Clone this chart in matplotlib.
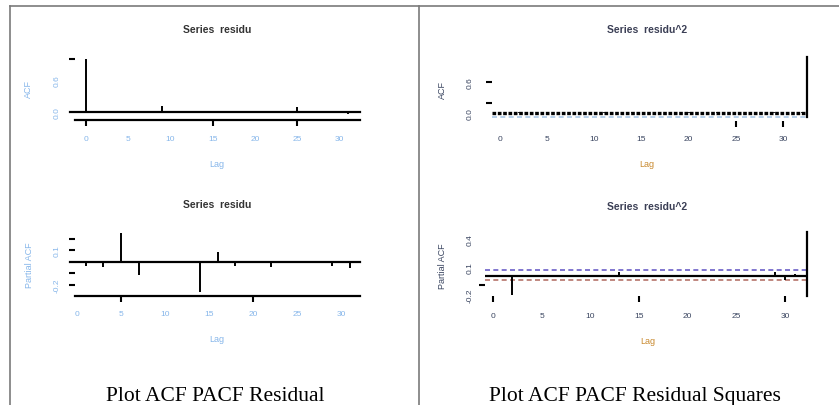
import numpy as np
import matplotlib.pyplot as plt
from matplotlib.lines import Line2D

W, H = 839, 406

# --- data ---
acf_res_lags = np.arange(0, 32)
acf_res = [1.00, 0.01, -0.01, 0.00, 0.01, -0.01, 0.00, 0.01, -0.01, 0.11,
           0.00, -0.01, 0.01, 0.00, -0.01, 0.01, 0.00, -0.01, 0.01, 0.00,
           -0.01, 0.00, 0.01, -0.01, 0.00, 0.09, 0.00, -0.01, 0.01, 0.00,
           -0.01, -0.03]

pacf_res_lags = np.arange(1, 32)
pacf_res = [-0.035, 0.01, -0.045, 0.005, 0.25, 0.01, -0.11, 0.005, -0.01, 0.01,
            0.00, -0.01, 0.01, -0.26, 0.005, 0.09, 0.00, -0.035, 0.01, 0.00,
            -0.01, -0.045, 0.00, 0.01, -0.01, 0.005, 0.00, 0.01, -0.035, 0.00,
            -0.05]

acf_sq_lags = np.arange(0, 33)
acf_sq = [0.02, 0.01, 0.02, 0.01, 0.01, 0.02, 0.01, 0.01, 0.02, 0.01, 0.01,
          0.02, 0.01, 0.01, 0.02, 0.01, 0.01, 0.02, 0.01, 0.01, 0.02, 0.01,
          0.01, 0.02, 0.01, 0.01, 0.02, 0.01, 0.01, 0.02, 0.01, 0.01, 0.02]

pacf_sq_lags = np.arange(1, 33)
pacf_sq = [0.01, -0.21, 0.00, 0.01, 0.00, -0.01, 0.00, 0.01, 0.00, -0.01,
           0.00, 0.01, 0.04, 0.00, -0.01, 0.00, 0.01, 0.00, -0.01, 0.00,
           0.01, 0.00, -0.01, 0.00, 0.01, 0.00, -0.01, 0.00, 0.04, -0.045,
           0.025, 0.00]
ci_sq = (0.065, -0.045)

lag_ticks = [0, 5, 10, 15, 20, 25, 30]
captions = ["Plot ACF PACF Residual", "Plot ACF PACF Residual Squares"]

plt.rcParams["font.family"] = ["Liberation Sans", "DejaVu Sans"]
fig = plt.figure(figsize=(W / 100, H / 100), dpi=100)

PX = 0.72  # pixels -> points


def add_panel(x0, x1, ytop, ybot, xlim, ylim):
    ax = fig.add_axes([x0 / W, 1 - ybot / H, (x1 - x0) / W, (ybot - ytop) / H])
    ax.set_xlim(*xlim)
    ax.set_ylim(*ylim)
    ax.patch.set_alpha(0)
    for s in ax.spines.values():
        s.set_visible(False)
    return ax


def style_ticks(ax, ylabels, ymarks, xmarks, xpad, ypad, color, bottom_spine):
    # labels on major ticks (no marks), visible marks drawn as minor ticks
    ax.xaxis.remove_overlapping_locs = False
    ax.yaxis.remove_overlapping_locs = False
    ax.set_xticks(lag_ticks)
    ax.set_xticklabels([str(t) for t in lag_ticks])
    ax.set_xticks(xmarks, minor=True)
    ax.set_yticks(list(ylabels.keys()))
    ax.set_yticklabels(list(ylabels.values()), rotation=90, va="center")
    ax.set_yticks(ymarks, minor=True)
    ax.tick_params(which="major", length=0, labelsize=6, labelcolor=color)
    ax.tick_params(axis="x", which="major", pad=xpad * PX)
    ax.tick_params(axis="y", which="major", pad=ypad * PX)
    ax.tick_params(which="minor", length=6 * PX, width=1.5, color="black",
                   direction="out")
    if bottom_spine:
        ax.spines["bottom"].set_visible(True)
        ax.spines["bottom"].set_linewidth(1.6)


def fig_text(x, y, s, **kw):
    fig.text(x / W, 1 - y / H, s, ha="center", va="center", **kw)


light = "#86b6ea"
dark = "#3a4560"

# top left: ACF of residuals
ax = add_panel(75, 360, 57, 121, (-1.3, 32.4), (-0.15, 1.05))
ax.axhline(0, xmin=-5 / 285, xmax=1, color="black", lw=1.6, clip_on=False)
ax.vlines(acf_res_lags, 0, acf_res, color="black", lw=1.4)
style_ticks(ax, {0.0: "0.0", 0.6: "0.6"}, [1.0], [0, 15, 25], 15, 14, light, True)
fig_text(217, 30, "Series  residu", fontsize=7.5, fontweight="bold", color="#333333")
fig_text(217, 165, "Lag", fontsize=6.5, color=light)
fig_text(28, 89, "ACF", fontsize=6.5, color=light, rotation=90)

# bottom left: PACF of residuals
ax = add_panel(75, 360, 228.5, 297, (-0.23, 32.16), (-0.296, 0.3))
ax.axhline(0, xmin=-5 / 285, xmax=1, color="black", lw=1.6, clip_on=False)
ax.vlines(pacf_res_lags, 0, pacf_res, color="black", lw=1.4)
style_ticks(ax, {0.1: "0.1", -0.2: "-0.2"}, [-0.2, -0.1, 0.1, 0.2], [5, 20],
            14, 14, light, True)
fig_text(217, 205, "Series  residu", fontsize=7.5, fontweight="bold", color="#333333")
fig_text(217, 339, "Lag", fontsize=6.5, color=light)
fig_text(29, 265, "Partial ACF", fontsize=6.5, color=light, rotation=90)

# top right: ACF of squared residuals
ax = add_panel(492, 807, 56, 122, (-0.85, 32.55), (-0.143, 1.114))
ax.axhline(0, color="black", lw=2.4, ls=(0, (1.1, 0.5)))
ax.axhline(-0.067, color="#a9c7e6", lw=1.2, ls=(0, (3, 2)))
ax.vlines(acf_sq_lags, 0, acf_sq, color="black", lw=1.2)
ax.spines["right"].set_visible(True)
ax.spines["right"].set_linewidth(1.6)
ax.spines["right"].set_bounds(-0.067, 1.076)
style_ticks(ax, {0.0: "0.0", 0.6: "0.6"}, [0.2, 0.6], [25, 30], 14, 18, dark, False)
fig_text(647, 30, "Series  residu^2", fontsize=7.5, fontweight="bold", color="#3b3f55")
fig_text(647, 165, "Lag", fontsize=6.5, color="#c8892e")
fig_text(442, 90, "ACF", fontsize=6.5, color=dark, rotation=90)

# bottom right: PACF of squared residuals
ax = add_panel(485, 807, 231, 297, (-0.82, 32.27), (-0.218, 0.502))
ax.axhline(0, color="black", lw=1.6)
ax.axhline(ci_sq[0], color="#6b5fc7", lw=1.2, ls=(0, (3, 2)))
ax.axhline(ci_sq[1], color="#b5736a", lw=1.2, ls=(0, (3, 2)))
ax.vlines(pacf_sq_lags, 0, pacf_sq, color="black", lw=1.4)
ax.spines["right"].set_visible(True)
ax.spines["right"].set_linewidth(1.6)
ax.spines["right"].set_bounds(-0.22, 0.48)
style_ticks(ax, {0.4: "0.4", 0.1: "0.1", -0.2: "-0.2"}, [-0.1], [0, 15, 30],
            16, 11, dark, False)
fig_text(647, 207, "Series  residu^2", fontsize=7.5, fontweight="bold", color="#3b3f55")
fig_text(648, 342, "Lag", fontsize=6.5, color="#c8892e")
fig_text(442, 266, "Partial ACF", fontsize=6.5, color=dark, rotation=90)

# table borders and captions
for xs, ys in [([10, W], [7, 7]), ([10, 10], [7, H]), ([419, 419], [7, H])]:
    fig.add_artist(Line2D([x / W for x in xs], [1 - y / H for y in ys],
                          color="#7a7a7a", lw=1.2))
for cx, text in zip([215, 635], captions):
    fig.text(cx / W, 1 - 401 / H, text, ha="center", va="baseline",
             fontsize=15.5, family=["Liberation Serif", "DejaVu Serif"])

fig.savefig("out.png", dpi=100)
